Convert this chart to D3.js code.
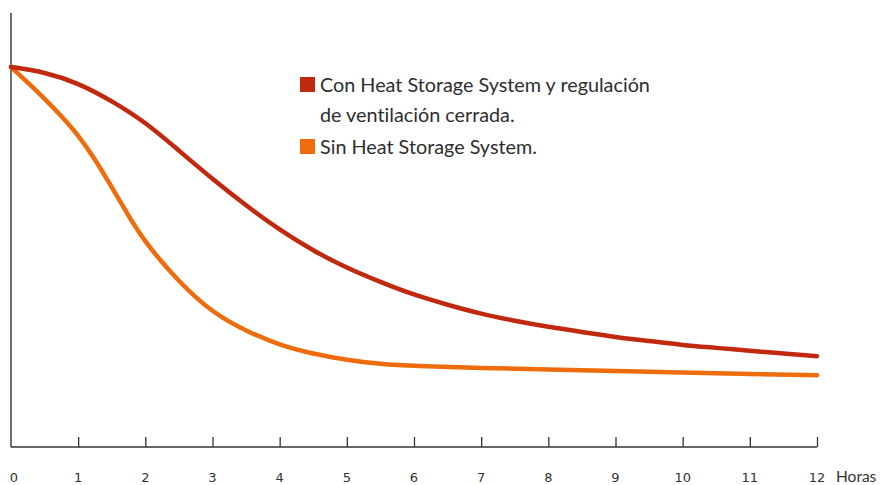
<!DOCTYPE html>
<html>
<head>
<meta charset="utf-8">
<script src="https://cdn.jsdelivr.net/npm/d3@7"></script>
<style>
  html, body { margin: 0; padding: 0; background: #fff; }
  svg { display: block; }
  text { font-variant-ligatures: none; font-feature-settings: "liga" 0; }
</style>
</head>
<body>
<div id="chart"></div>
<script>
// ---- data ----
const hoursCon = [0,0.5,1,1.5,2,2.5,3,3.5,4,4.5,5,5.5,6,6.5,7,7.5,8,8.5,9,9.5,10,10.5,11,11.5,12];
const valuesCon = [100,98.7,95.8,91.1,85.5,78.0,70.5,63.5,57.1,51.6,47.1,43.4,40.0,37.4,35.0,33.2,31.6,30.3,28.9,27.9,26.8,26.1,25.3,24.6,23.9];
const hoursSin = [0,0.25,0.5,0.75,1,1.25,1.5,1.75,2,2.5,3,3.5,4,4.5,5,5.5,6,7,8,9,10,11,12];
const valuesSin = [100,95.9,91.7,87.1,82.1,75.8,68.4,60.8,53.7,43.4,35.3,30.5,26.8,24.5,22.9,21.8,21.3,20.8,20.4,20.0,19.6,19.2,18.9];
const tickLabels = ["0","1","2","3","4","5","6","7","8","9","10","11","12"];
const axisTitle = "Horas";
const seriesNames = [["Con Heat Storage System y regulación", "de ventilación cerrada."], ["Sin Heat Storage System."]];
const seriesColors = ["#c1290e", "#ee6c0b"];

// ---- layout ----
const W = 881, H = 485;
const svg = d3.select("#chart").append("svg").attr("width", W).attr("height", H);

const x = d3.scaleLinear().domain([0, 12]).range([11, 817]);
const y = d3.scaleLinear().domain([0, 100]).range([447, 67]);

// y axis line
svg.append("line")
  .attr("x1", x(0)).attr("x2", x(0))
  .attr("y1", 13).attr("y2", y(0))
  .attr("stroke", "#222").attr("stroke-width", 1.3);

// x axis
const xAxis = d3.axisTop(x).tickValues(d3.range(1, 13)).tickSize(10).tickFormat("");
const gx = svg.append("g").attr("transform", `translate(0,${y(0)})`).call(xAxis);
gx.select(".domain").attr("stroke", "#333").attr("stroke-width", 1.3).attr("d", `M${x(0)},0H${x(12)}`);
gx.selectAll(".tick line").attr("stroke", "#333").attr("stroke-width", 1.3);

// tick labels
svg.append("g").selectAll("text").data(tickLabels).join("text")
  .attr("x", (d, i) => x(i) + (i === 0 ? 3 : 0))
  .attr("y", 482)
  .attr("text-anchor", "middle")
  .attr("font-family", "DejaVu Sans, Verdana, sans-serif")
  .attr("font-size", 13)
  .attr("fill", "#333")
  .text(d => d);

svg.append("text")
  .attr("x", 836).attr("y", 482)
  .attr("font-family", "Lato, 'Open Sans', sans-serif")
  .attr("font-size", 15.5)
  .attr("fill", "#333")
  .text(axisTitle);

// lines
const line = d3.line().x(d => x(d[0])).y(d => y(d[1])).curve(d3.curveBasis);
const dataCon = hoursCon.map((h, i) => [h, valuesCon[i]]);
const dataSin = hoursSin.map((h, i) => [h, valuesSin[i]]);

svg.append("path").datum(dataSin)
  .attr("d", line).attr("fill", "none")
  .attr("stroke", seriesColors[1]).attr("stroke-width", 4.5)
  .attr("stroke-linecap", "round").attr("stroke-linejoin", "round");
svg.append("path").datum(dataCon)
  .attr("d", line).attr("fill", "none")
  .attr("stroke", seriesColors[0]).attr("stroke-width", 4.5)
  .attr("stroke-linecap", "round").attr("stroke-linejoin", "round");

// legend
const legend = svg.append("g").attr("transform", "translate(300,0)");
const legendY = [77, 139];
seriesNames.forEach((lines, i) => {
  legend.append("rect")
    .attr("x", 0).attr("y", legendY[i])
    .attr("width", 15).attr("height", 15)
    .attr("fill", seriesColors[i]);
  lines.forEach((t, j) => {
    legend.append("text")
      .attr("x", 20).attr("y", legendY[i] + 15 + j * 30)
      .attr("font-family", "Lato, 'Open Sans', sans-serif")
      .attr("font-size", 19.8)
      .attr("fill", "#2e2e2e")
      .text(t);
  });
});
</script>
</body>
</html>
